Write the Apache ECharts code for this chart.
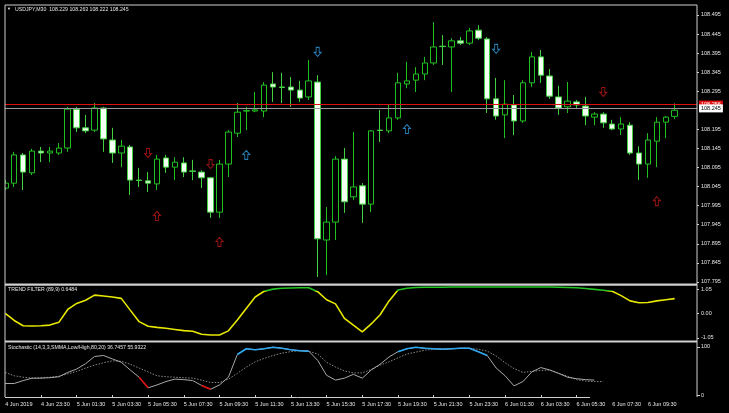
<!DOCTYPE html>
<html><head><meta charset="utf-8">
<script src="https://cdn.jsdelivr.net/npm/echarts@6/dist/echarts.min.js"></script>
<style>html,body{margin:0;padding:0;background:#000;}#c{width:729px;height:413px;}</style>
</head><body><div id="c"></div>
<script>
const categories = ['4 Jun 21:30','4 Jun 22:00','4 Jun 22:30','4 Jun 23:00','4 Jun 23:30',
'5 Jun 00:00','5 Jun 00:30','5 Jun 01:00','5 Jun 01:30','5 Jun 02:00','5 Jun 02:30','5 Jun 03:00','5 Jun 03:30',
'5 Jun 04:00','5 Jun 04:30','5 Jun 05:00','5 Jun 05:30','5 Jun 06:00','5 Jun 06:30','5 Jun 07:00','5 Jun 07:30',
'5 Jun 08:00','5 Jun 08:30','5 Jun 09:00','5 Jun 09:30','5 Jun 10:00','5 Jun 10:30','5 Jun 11:00','5 Jun 11:30',
'5 Jun 12:00','5 Jun 12:30','5 Jun 13:00','5 Jun 13:30','5 Jun 14:00','5 Jun 14:30','5 Jun 15:00','5 Jun 15:30',
'5 Jun 16:00','5 Jun 16:30','5 Jun 17:00','5 Jun 17:30','5 Jun 18:00','5 Jun 18:30','5 Jun 19:00','5 Jun 19:30',
'5 Jun 20:00','5 Jun 20:30','5 Jun 21:00','5 Jun 21:30','5 Jun 22:00','5 Jun 22:30','5 Jun 23:00','5 Jun 23:30',
'6 Jun 00:00','6 Jun 00:30','6 Jun 01:00','6 Jun 01:30','6 Jun 02:00','6 Jun 02:30','6 Jun 03:00','6 Jun 03:30',
'6 Jun 04:00','6 Jun 04:30','6 Jun 05:00','6 Jun 05:30','6 Jun 06:00','6 Jun 06:30','6 Jun 07:00','6 Jun 07:30',
'6 Jun 08:00','6 Jun 08:30','6 Jun 09:00','6 Jun 09:30','6 Jun 10:00','6 Jun 10:30','6 Jun 11:00','6 Jun 11:30','6 Jun 12:00'];

const timeTickIndex = [0,4,8,12,16,20,24,28,32,36,40,44,48,52,56,60,64,68,72];
const timeTickText = ['4 Jun 2019','4 Jun 23:30','5 Jun 01:30','5 Jun 03:30','5 Jun 05:30','5 Jun 07:30','5 Jun 09:30',
'5 Jun 11:30','5 Jun 13:30','5 Jun 15:30','5 Jun 17:30','5 Jun 19:30','5 Jun 21:30','5 Jun 23:30','6 Jun 01:30',
'6 Jun 03:30','6 Jun 05:30','6 Jun 07:30','6 Jun 09:30'];
const timeTickMarkIndex = [4,8,12,16,20,24,28,32,36,40,44,48,52,56,60,64];

const openP = [108.041,108.054,108.128,108.081,108.138,108.133,108.133,108.146,108.248,108.199,
108.193,108.251,108.167,108.133,108.149,108.062,108.060,108.052,108.120,108.096,
108.107,108.086,108.083,108.068,107.978,108.104,108.185,108.243,108.243,108.243,
108.314,108.306,108.306,108.298,108.280,108.319,107.905,107.952,108.117,108.018,
108.047,107.999,108.193,108.191,108.225,108.314,108.324,108.340,108.369,108.413,
108.411,108.427,108.421,108.455,108.432,108.275,108.233,108.259,108.217,108.317,
108.385,108.335,108.280,108.254,108.267,108.256,108.227,108.235,108.209,108.196,
108.206,108.133,108.104,108.164,108.214,108.229];
const closeP = [108.054,108.128,108.083,108.138,108.133,108.138,108.146,108.248,108.199,108.191,
108.251,108.170,108.133,108.151,108.062,108.061,108.054,108.117,108.096,108.109,
108.083,108.085,108.068,107.978,108.104,108.188,108.240,108.244,108.246,108.311,
108.306,108.305,108.298,108.277,108.322,107.908,107.952,108.117,108.005,108.044,
107.999,108.191,108.192,108.225,108.317,108.322,108.340,108.369,108.411,108.412,
108.427,108.421,108.453,108.434,108.275,108.230,108.261,108.217,108.317,108.385,
108.337,108.282,108.251,108.269,108.259,108.230,108.235,108.212,108.196,108.209,
108.133,108.104,108.167,108.214,108.227,108.245];
const lowP = [108.036,108.044,108.036,108.075,108.109,108.109,108.128,108.136,108.188,108.185,
108.188,108.136,108.107,108.096,108.023,108.044,108.031,108.036,108.081,108.062,
108.070,108.062,108.041,107.963,107.963,108.070,108.175,108.193,108.240,108.227,
108.267,108.264,108.254,108.267,108.272,107.808,107.813,107.905,107.976,108.010,
107.950,107.978,108.162,108.185,108.220,108.303,108.293,108.324,108.364,108.364,
108.293,108.416,108.416,108.429,108.238,108.220,108.172,108.180,108.212,108.306,
108.317,108.275,108.233,108.238,108.251,108.206,108.206,108.199,108.193,108.180,
108.128,108.062,108.068,108.096,108.172,108.222];
const highP = [108.062,108.136,108.133,108.144,108.149,108.149,108.159,108.254,108.254,108.233,
108.264,108.254,108.199,108.167,108.154,108.094,108.083,108.128,108.128,108.122,
108.122,108.115,108.088,108.070,108.115,108.193,108.264,108.254,108.293,108.319,
108.345,108.343,108.332,108.322,108.377,108.337,107.991,108.125,108.146,108.188,
108.054,108.193,108.246,108.259,108.343,108.372,108.358,108.385,108.476,108.442,
108.434,108.437,108.461,108.468,108.437,108.330,108.324,108.285,108.324,108.398,
108.403,108.353,108.309,108.319,108.272,108.280,108.240,108.240,108.220,108.227,
108.214,108.151,108.185,108.227,108.230,108.263];

const priceTicks = [108.495,108.445,108.395,108.345,108.295,108.195,108.145,108.095,108.045,107.995,107.945,107.895,107.845,107.795];
const bidPrice = 108.245;
const askPrice = 108.256;

const arrowRedUp = [[17,107.968],[24,107.900],[73,108.007]];
const arrowRedDown = [[16,108.133],[23,108.104],[67,108.293]];
const arrowBlueUp = [[27,108.128],[45,108.196]];
const arrowBlueDown = [[35,108.398],[55,108.406]];

const trendValues = [0.01,-0.30,-0.53,-0.54,-0.53,-0.50,-0.38,0.18,0.44,0.58,
0.80,0.76,0.72,0.66,0.15,-0.35,-0.55,-0.60,-0.64,-0.69,
-0.74,-0.77,-0.90,-0.93,-0.93,-0.75,-0.28,0.22,0.72,0.97,
1.06,1.10,1.11,1.12,1.12,0.95,0.60,0.42,-0.21,-0.50,
-0.79,-0.45,-0.05,0.55,1.02,1.10,1.13,1.14,1.14,1.14,
1.15,1.15,1.15,1.15,1.15,1.15,1.15,1.15,1.15,1.15,
1.15,1.15,1.14,1.13,1.12,1.09,1.05,1.01,0.97,0.78,
0.55,0.47,0.48,0.55,0.60,0.65];
const trendGreenLevel = 0.995;
const trendTicks = [1.05,0,-1.05];

const stochMain = [24,24,30,35,35,36,38,47,54,65,
80,82,75,68,52,37,15,21,28,33,
32,30,20,12,21,37,84,96,94,96,
99,97,94,92,91,72,41,31,35,43,
35,52,64,79,90,96,99,97,96,95,
96,97,97,90,82,56,40,19,28,48,
57,52,45,37,34,32,31];
const stochSignal = [47,40,37,35,36,37,39,44,49,56,
62,67,71,70,64,56,48,40,38,37,
36,35,31,26,26,33,45,58,69,76,
82,87,90,92,91,85,68,58,50,46,
46,53,62,69,77,85,89,93,95,96,
96,97,97,95,91,81,67,55,47,49,
51,52,45,39,32,29,28,28];
const stochBlueRanges = [[26,34],[44,54]];
const stochRedRanges = [[15,16],[22,23]];
const stochTicks = [100,0];

const FONT = 'Liberation Sans';
const TXT = '#e6e6e6';
const FRAME = '#cfcfcf';

const chart = echarts.init(document.getElementById('c'));
const candleData = openP.map((o,i)=>[o, closeP[i], lowP[i], highP[i]]);
const overlay = (vals, ranges) => vals.map((v,i)=> ranges.some(r=>i>=r[0]&&i<=r[1]) ? v : '-');
const labelShow = (idx) => timeTickIndex.indexOf(idx) >= 0;
const tickMarkShow = (idx) => timeTickMarkIndex.indexOf(idx) >= 0;

const xBase = {type:'category', data:categories, boundaryGap:true,
  axisLine:{show:false}, axisTick:{show:false}, axisLabel:{show:false}, splitLine:{show:false}};
const upPath = 'path://M3,0L6,3.6L4.3,3.6L4.3,8L1.7,8L1.7,3.6L0,3.6Z';
const downPath = 'path://M3,8L6,4.4L4.3,4.4L4.3,0L1.7,0L1.7,4.4L0,4.4Z';
const arrowSeries = (data, path, color) => ({type:'scatter', xAxisIndex:0, yAxisIndex:0, data:data,
  symbol:path, symbolSize:[7,9], silent:true,
  itemStyle:{color:'rgba(0,0,0,0)', borderColor:color, borderWidth:1}, z:5});
const priceLine = (value, lineColor, boxColor, textColor, z) => ({type:'line', xAxisIndex:0, yAxisIndex:0, data:[], silent:true, z:z,
  markLine:{silent:true, symbol:'none', animation:false,
    data:[{yAxis:value}],
    lineStyle:{color:lineColor, width:1, type:'solid'},
    label:{show:true, position:'end', distance:2, formatter:value.toFixed(3), color:textColor, backgroundColor:boxColor,
      fontSize:5.5, fontFamily:FONT, padding:[1,2]}}});

const option = {
  backgroundColor:'#000',
  animation:false,
  grid:[
    {left:0.8, top:5, width:696.2, height:280},
    {left:0.8, top:285, width:696.2, height:56},
    {left:0.8, top:342, width:696.2, height:55}
  ],
  xAxis:[
    Object.assign({}, xBase, {gridIndex:0}),
    Object.assign({}, xBase, {gridIndex:1}),
    Object.assign({}, xBase, {gridIndex:2,
      axisLine:{show:false},
      axisTick:{show:true, interval:tickMarkShow, alignWithLabel:true, length:3, lineStyle:{color:FRAME}},
      axisLabel:{show:true, interval:labelShow, align:'left', margin:4, color:TXT, fontSize:5.5, fontFamily:FONT,
        formatter:(v, idx)=>{ const k = timeTickIndex.indexOf(idx); return k>=0 ? timeTickText[k] : ''; }}})
  ],
  yAxis:[
    {type:'value', gridIndex:0, position:'right', min:107.787, max:108.521,
      axisLine:{show:false}, splitLine:{show:false},
      axisTick:{show:true, customValues:priceTicks, length:2, lineStyle:{color:FRAME}},
      axisLabel:{customValues:priceTicks, formatter:v=>v.toFixed(3), color:TXT, fontSize:5.5, fontFamily:FONT, margin:4}},
    {type:'value', gridIndex:1, position:'right', min:-1.19, max:1.24,
      axisLine:{show:false}, splitLine:{show:false},
      axisTick:{show:true, customValues:trendTicks, length:2, lineStyle:{color:FRAME}},
      axisLabel:{customValues:trendTicks, formatter:v=>v.toFixed(2), color:TXT, fontSize:5.5, fontFamily:FONT, margin:4}},
    {type:'value', gridIndex:2, position:'right', min:-4, max:110,
      axisLine:{show:false}, splitLine:{show:false},
      axisTick:{show:true, customValues:stochTicks, length:3, lineStyle:{color:FRAME}},
      axisLabel:{customValues:stochTicks, formatter:v=>String(v), color:TXT, fontSize:5.5, fontFamily:FONT, margin:4}}
  ],
  visualMap:[{type:'piecewise', show:false, seriesIndex:5, dimension:1,
    pieces:[{min:trendGreenLevel, max:5, color:'#22c322'},{min:-5, max:trendGreenLevel, color:'#e8e800'}]}],
  series:[
    {type:'candlestick', xAxisIndex:0, yAxisIndex:0, data:candleData, barWidth:6, z:3,
      itemStyle:{color:'#000000', color0:'#f4fff4', borderColor:'#20c020', borderColor0:'#40d040', borderColorDoji:'#30c830', borderWidth:1}},
    arrowSeries(arrowRedUp, upPath, '#c01818'),
    arrowSeries(arrowRedDown, downPath, '#c01818'),
    arrowSeries(arrowBlueUp, upPath, '#2f9be0'),
    arrowSeries(arrowBlueDown, downPath, '#2f9be0'),
    {type:'line', xAxisIndex:1, yAxisIndex:1, data:trendValues, showSymbol:false,
      lineStyle:{width:1.6}, silent:true},
    {type:'line', xAxisIndex:2, yAxisIndex:2, data:stochSignal, showSymbol:false, silent:true,
      lineStyle:{color:'#8a8a8a', width:1, type:[1.5,1.5]}},
    {type:'line', xAxisIndex:2, yAxisIndex:2, data:stochMain, showSymbol:false, silent:true,
      lineStyle:{color:'#a9a9a9', width:1}},
    {type:'line', xAxisIndex:2, yAxisIndex:2, data:overlay(stochMain, stochBlueRanges), showSymbol:false, silent:true,
      lineStyle:{color:'#2ea7ee', width:1.6}},
    {type:'line', xAxisIndex:2, yAxisIndex:2, data:overlay(stochMain, stochRedRanges), showSymbol:false, silent:true,
      lineStyle:{color:'#e01010', width:1.6}},
    priceLine(askPrice, '#e01010', '#e01010', '#ffffff', 1),
    priceLine(bidPrice, '#9a9a9a', '#ffffff', '#000000', 2)
  ],
  graphic:[
    {type:'rect', left:0, top:0, shape:{width:5, height:398}, style:{fill:'#000'}, z:100},
    {type:'rect', shape:{x:5, y:5, width:692, height:280}, style:{fill:null, stroke:FRAME, lineWidth:1}, z:110},
    {type:'line', shape:{x1:5, y1:284.5, x2:697, y2:284.5}, style:{stroke:FRAME, lineWidth:2}, z:110},
    {type:'line', shape:{x1:5, y1:341.5, x2:697, y2:341.5}, style:{stroke:FRAME, lineWidth:2}, z:110},
    {type:'line', shape:{x1:5, y1:285, x2:5, y2:397}, style:{stroke:FRAME, lineWidth:1}, z:110},
    {type:'line', shape:{x1:697, y1:285, x2:697, y2:397}, style:{stroke:FRAME, lineWidth:1}, z:110},
    {type:'line', shape:{x1:5, y1:397.5, x2:590, y2:397.5}, style:{stroke:FRAME, lineWidth:1}, z:110},
    {type:'text', x:7, y:7, style:{text:'▼', fill:TXT, font:'4px '+FONT}, z:120},
    {type:'text', x:15, y:7, style:{text:'USDJPY,M30  108.229 108.263 108.222 108.245', fill:TXT, font:'5.2px '+FONT}, z:120},
    {type:'text', x:8, y:287.5, style:{text:'TREND FILTER (89,9) 0.6484', fill:TXT, font:'5.2px '+FONT}, z:120},
    {type:'text', x:8, y:345, style:{text:'Stochastic (14,3,3,SMMA,Low/High,80,20) 36.7457 55.9322', fill:TXT, font:'5.2px '+FONT}, z:120}
  ]
};
chart.setOption(option);
</script></body></html>
